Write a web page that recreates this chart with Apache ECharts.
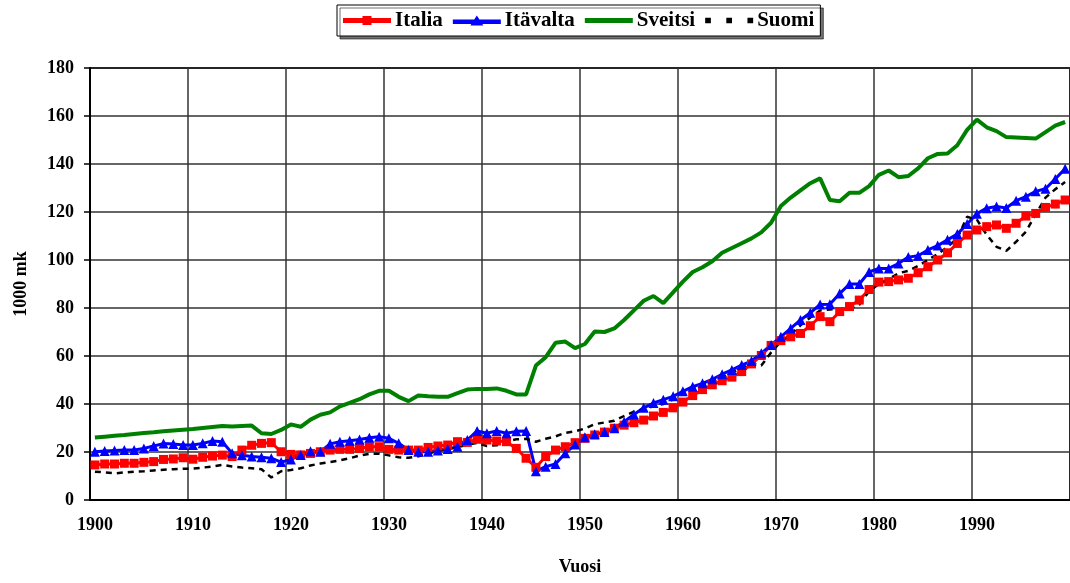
<!DOCTYPE html>
<html>
<head>
<meta charset="utf-8">
<script src="https://cdn.jsdelivr.net/npm/echarts@6/dist/echarts.min.js"></script>
<style>
html,body{margin:0;padding:0;background:#fff;}
#chart{width:1070px;height:583px;}
</style>
</head>
<body>
<div id="chart"></div>
<script>
// Years 1900..1999
const years = [];
for (let y = 1900; y <= 1999; y++) years.push(String(y));

const italia = [
14.6,15.0,15.0,15.3,15.3,15.7,16.0,16.9,17.1,17.6,
17.0,17.8,18.3,18.7,18.1,20.8,22.8,23.6,23.9,20.1,
19.0,18.8,19.4,20.1,20.8,21.1,21.1,21.5,22.2,22.2,
21.1,20.8,20.8,20.8,21.9,22.5,22.9,24.3,24.0,25.3,
25.0,24.6,24.3,21.5,17.4,13.6,18.1,20.8,22.2,23.9,
25.7,27.1,28.3,29.9,31.2,32.2,33.3,35.0,36.5,38.4,
40.8,43.5,46.0,48.0,49.7,51.2,53.5,56.7,60.2,64.4,
66.4,68.0,69.4,72.6,76.4,74.3,78.5,80.6,83.3,87.7,
90.8,91.0,91.7,92.4,94.7,97.2,100.0,103.0,106.9,110.4,
112.5,113.9,114.6,113.2,115.3,118.3,119.4,121.9,123.3,125.0
];

const itavalta = [
20.1,20.4,20.6,20.8,20.8,21.5,22.5,23.5,23.3,22.9,
22.9,23.6,24.6,24.3,19.5,18.6,18.1,17.8,17.4,15.8,
16.9,18.7,20.3,20.1,23.4,24.3,24.7,25.2,25.9,26.4,
25.7,23.6,20.8,20.1,20.1,20.6,21.2,22.2,25.0,28.8,
27.8,28.8,27.8,28.6,28.8,12.0,13.9,15.0,19.5,23.1,
26.1,27.4,28.3,29.9,32.6,35.6,38.4,40.4,41.8,43.2,
45.3,47.2,48.6,50.3,52.4,54.2,56.2,57.9,61.1,64.6,
68.0,71.5,75.0,78.0,81.5,81.6,86.0,90.0,90.0,95.0,
96.5,96.5,98.5,101.2,101.8,104.2,106.0,108.4,110.8,115.0,
119.3,121.6,122.3,121.7,124.7,126.4,128.6,129.7,133.8,138.0
];

const sveitsi = [
26.0,26.4,26.8,27.1,27.5,27.9,28.2,28.6,29.0,29.3,
29.6,30.0,30.4,30.8,30.6,30.8,31.0,27.8,27.5,29.2,
31.5,30.5,33.5,35.5,36.5,39.0,40.5,42.0,44.0,45.5,
45.5,43.0,41.2,43.5,43.2,43.0,43.0,44.5,46.0,46.3,
46.3,46.5,45.5,44.0,44.0,56.0,59.5,65.5,66.0,63.3,
65.0,70.2,70.0,71.5,75.0,79.0,83.0,85.0,82.0,86.5,
91.0,95.0,97.0,99.5,103.0,105.0,107.0,109.0,111.5,115.5,
122.5,126.0,129.0,132.0,134.0,125.0,124.5,128.0,128.0,130.8,
135.5,137.3,134.5,135.0,138.2,142.4,144.2,144.4,147.8,154.2,
158.5,155.3,153.7,151.2,151.0,150.8,150.6,153.3,156.0,157.5
];

const suomi = [
11.8,11.5,11.1,11.5,11.8,12.0,12.3,12.6,12.8,13.0,
13.1,13.5,14.0,14.6,14.0,13.5,13.2,12.8,9.4,12.0,
12.5,13.2,14.4,15.2,15.8,16.5,17.4,18.5,19.2,19.3,
18.6,17.8,17.6,18.2,19.2,20.5,21.3,22.0,23.0,23.8,
22.5,22.8,24.5,25.3,25.5,24.3,25.5,26.5,28.0,28.6,
29.8,31.6,32.3,33.0,35.0,36.8,37.8,39.0,40.0,41.9,
44.2,46.5,48.0,49.5,51.0,53.0,55.0,57.0,56.0,61.5,
66.0,69.0,72.8,76.0,79.0,79.4,79.5,80.0,81.3,87.0,
90.0,92.0,94.5,95.5,97.5,100.0,102.5,105.5,109.0,118.0,
116.8,110.5,105.5,103.8,107.6,111.8,119.0,126.0,129.5,132.5
];

const yTicks = [0, 20, 40, 60, 80, 100, 120, 140, 160, 180];
const seriesNames = ['Italia', 'Itävalta', 'Sveitsi', 'Suomi'];

const FONT = "'Liberation Serif', 'Times New Roman', serif";
const boldText = {fontFamily: FONT, fontWeight: 'bold', fontSize: 18, color: '#000'};

// legend icons (shapes only)
const ICON_SQUARE_LINE = 'path://M0,3.5H19.5V1.5H28.5V3.5H48V8.5H28.5V10.5H19.5V8.5H0Z';
const ICON_TRI_LINE = 'path://M0,4H21.4L24,0L26.6,4H48V8.5H29.5L30.5,10H17.5L18.5,8.5H0Z';
const ICON_LINE = 'path://M0,0H48V5H0Z';
const ICON_DOTS = 'path://M3,0H8V5H3Z M21.5,0H26.5V5H21.5Z M40,0H45V5H40Z';

const chart = echarts.init(document.getElementById('chart'), null, {renderer: 'canvas'});
chart.setOption({
  animation: false,
  backgroundColor: '#fff',
  legend: {
    top: 5, left: 337,
    itemWidth: 48, itemHeight: 12, itemGap: 10,
    padding: [5, 6, 5, 6],
    borderColor: '#000', borderWidth: 1,
    backgroundColor: '#fff',
    shadowColor: 'rgba(0,0,0,0.55)', shadowOffsetX: 3, shadowOffsetY: 3, shadowBlur: 0,
    textStyle: {fontFamily: FONT, fontWeight: 'bold', fontSize: 21, color: '#000', padding: [0, 0, 0, -1]},
    data: [
      {name: seriesNames[0], icon: ICON_SQUARE_LINE},
      {name: seriesNames[1], icon: ICON_TRI_LINE},
      {name: seriesNames[2], icon: ICON_LINE},
      {name: seriesNames[3], icon: ICON_DOTS}
    ]
  },
  grid: {
    left: 90, top: 68, right: -6, bottom: 83,
    show: true, borderColor: '#000', borderWidth: 2, backgroundColor: 'transparent'
  },
  xAxis: {
    type: 'category',
    data: years,
    boundaryGap: true,
    name: 'Vuosi', nameLocation: 'middle', nameGap: 58,
    nameTextStyle: boldText,
    axisLine: {lineStyle: {color: '#000', width: 2}},
    axisTick: {interval: 9, length: 6, lineStyle: {color: '#000', width: 1.5}},
    axisLabel: Object.assign({interval: 9, margin: 16}, boldText),
    splitLine: {show: true, interval: 9, lineStyle: {color: '#333', width: 1.5}}
  },
  yAxis: {
    type: 'value',
    min: yTicks[0], max: yTicks[yTicks.length - 1], interval: 20,
    name: '1000 mk', nameLocation: 'middle', nameGap: 60, nameRotate: 90,
    nameTextStyle: boldText,
    axisLine: {show: true, lineStyle: {color: '#000', width: 2}},
    axisTick: {show: true, length: 6, lineStyle: {color: '#000', width: 1.5}},
    axisLabel: Object.assign({margin: 16}, boldText),
    splitLine: {show: true, lineStyle: {color: '#333', width: 1.5}}
  },
  series: [
    {
      name: seriesNames[0], type: 'line', data: italia,
      symbol: 'rect', symbolSize: 9, showAllSymbol: true,
      lineStyle: {color: '#ff0000', width: 3},
      itemStyle: {color: '#ff0000'}
    },
    {
      name: seriesNames[1], type: 'line', data: itavalta,
      symbol: 'triangle', symbolSize: 10, showAllSymbol: true,
      lineStyle: {color: '#0000ff', width: 3},
      itemStyle: {color: '#0000ff'}
    },
    {
      name: seriesNames[2], type: 'line', data: sveitsi,
      symbol: 'none', showSymbol: false,
      lineStyle: {color: '#008000', width: 4},
      itemStyle: {color: '#008000'}
    },
    {
      name: seriesNames[3], type: 'line', data: suomi,
      symbol: 'none', showSymbol: false,
      lineStyle: {color: '#000', width: 2.5, type: [6, 5]},
      itemStyle: {color: '#000'}
    }
  ]
});
</script>
</body>
</html>
